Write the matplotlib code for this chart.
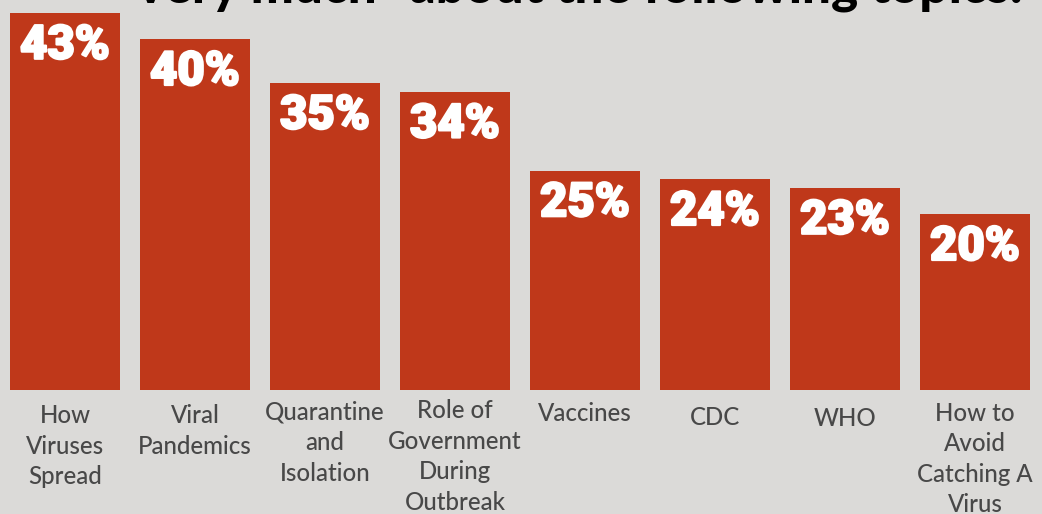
import matplotlib
matplotlib.use("Agg")
import matplotlib.pyplot as plt
import matplotlib.patheffects as pe

# Share of respondents interested "very much" in each topic
topics = [
    "How\nViruses\nSpread",
    "Viral\nPandemics",
    "Quarantine\nand\nIsolation",
    "Role of\nGovernment\nDuring\nOutbreak",
    "Vaccines",
    "CDC",
    "WHO",
    "How to\nAvoid\nCatching A\nVirus",
]
shares = [43, 40, 35, 34, 25, 24, 23, 20]
value_labels = [f"{v}%" for v in shares]

title_text = 'very much" about the following topics:'

BG = "#DBDAD8"
BAR = "#BF381A"
LABEL = "#484848"

W, H, DPI = 1042, 514, 100
fig = plt.figure(figsize=(W / DPI, H / DPI), dpi=DPI, facecolor=BG)
ax = fig.add_axes([0, 0, 1, 1], facecolor=BG)

# value axis: zero sits at pixel row 389.5, 8.75 px per percentage point
px_per_unit = 8.75
base_px = 389.5
ax.set_ylim(-(H - base_px) / px_per_unit, base_px / px_per_unit)
# bar centres every 130 px starting at 65 px
ax.set_xlim(-0.5, (W - 65) / 130)
ax.axis("off")

x = list(range(len(shares)))
ax.bar(x, shares, width=110 / 130, color=BAR, linewidth=0)

pt = 72 / DPI  # points per pixel

# percentage labels inside the top of each bar
for xi, v, lab in zip(x, shares, value_labels):
    t = ax.annotate(lab, (xi, v), xytext=(0, -45.5 * pt), textcoords="offset points",
                    ha="center", va="baseline", color="white", fontsize=34,
                    fontweight=900, family=["Roboto", "DejaVu Sans"])
    t.set_path_effects([pe.withStroke(linewidth=1.6, foreground="white")])

# category labels under the bars (small per-label vertical nudges in px)
label_dy = [0, 0, -3.3, -5, -2.3, 1.7, 3, -2.3]
for xi, name, dy in zip(x, topics, label_dy):
    ax.annotate(name, (xi, 0), xytext=(0, -(404 - base_px + dy) * pt),
                textcoords="offset points", ha="center", va="top",
                color=LABEL, fontsize=17.3, fontweight="medium",
                family=["Lato", "DejaVu Sans"],
                linespacing=1.40, annotation_clip=False)

# heading, mostly above the top edge of the canvas; sized to span 137..1022 px
title = fig.text(137 / W, 1 - 2.5 / H, title_text, ha="left", va="baseline",
                 fontsize=40, fontweight="black", color="black",
                 family=["Lato", "DejaVu Sans"])
renderer = fig.canvas.get_renderer()
width_px = title.get_window_extent(renderer).width
title.set_fontsize(40 * (1022 - 137) / width_px)

fig.savefig("out.png", dpi=DPI, facecolor=BG)
